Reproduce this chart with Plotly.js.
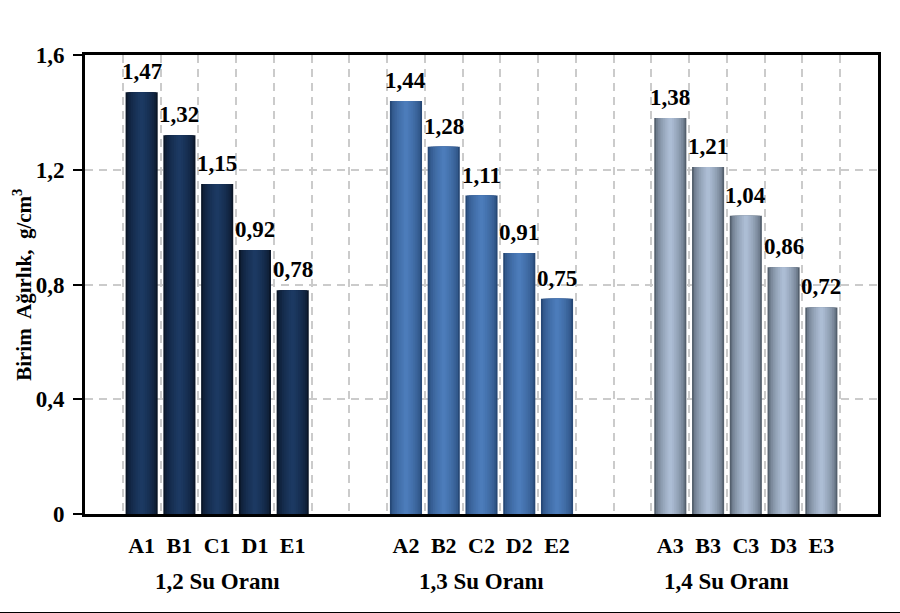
<!DOCTYPE html>
<html>
<head>
<meta charset="utf-8">
<script src="https://cdn.plot.ly/plotly-3.0.1.min.js"></script>
<style>html,body{margin:0;padding:0;background:#fff;}#chart{width:900px;height:613px;}</style>
</head>
<body>
<div id="chart"></div>
<script>
// ---- data ----
const categories = ['A1','B1','C1','D1','E1','A2','B2','C2','D2','E2','A3','B3','C3','D3','E3'];
const groupLabels = ['1,2 Su Oranı','1,3 Su Oranı','1,4 Su Oranı'];
const values12 = [1.47, 1.32, 1.15, 0.92, 0.78];
const values13 = [1.44, 1.28, 1.11, 0.91, 0.75];
const values14 = [1.38, 1.21, 1.04, 0.86, 0.72];
const yTickVals = [0, 0.4, 0.8, 1.2, 1.6];
const yTickText = ['0', '0,4', '0,8', '1,2', '1,6'];
const yTitle = 'Birim  Ağırlık,  g/cm<sup>3</sup>';

// ---- styles ----
const edgeColors = [[10,22,40],[38,72,118],[84,96,110]];
const centerColors = [[28,57,98],[76,124,186],[172,189,212]];
const FONT = 'Liberation Serif, Times New Roman, serif';

const groups = [values12, values13, values14];
const perGroup = 5;
// category order with two empty slots between groups
const catOrder = [], tickText = [];
groups.forEach((vals, g) => {
  for (let i = 0; i < perGroup; i++) { catOrder.push(categories[g*perGroup+i]); tickText.push(categories[g*perGroup+i]); }
  if (g < groups.length - 1) { catOrder.push('gap'+g+'a', 'gap'+g+'b'); tickText.push(' ', ' '); }
});

const xs = [], ys = [], gIdx = [];
groups.forEach((vals, g) => vals.forEach((v, i) => { xs.push(categories[g*perGroup+i]); ys.push(v); gIdx.push(g); }));

function mix(a, b, t) {
  return 'rgb(' + a.map((c, k) => Math.round(c + (b[k]-c)*t)).join(',') + ')';
}

const N = 9, W = 0.85;
const traces = [];
for (let k = 0; k < N; k++) {
  const f = k / (N - 1);
  const t = Math.pow(f, 0.55);
  const w = W * (1 - 0.88 * f);
  traces.push({
    type: 'bar', x: xs, y: ys, width: w,
    marker: { color: gIdx.map(g => mix(edgeColors[g], centerColors[g], t)), line: {width: 0} },
    hoverinfo: 'skip', showlegend: false
  });
}

const annotations = xs.map((c, i) => ({
  xref: 'x', yref: 'y', x: c, y: ys[i], yanchor: 'bottom', xanchor: 'center', yshift: 6,
  text: ys[i].toFixed(2).replace('.', ','), showarrow: false,
  font: { family: FONT, size: 23, color: '#000', weight: 'bold' }
}));
groupLabels.forEach((lab, g) => annotations.push({
  xref: 'x', yref: 'paper', x: g*(perGroup+2) + 2, y: -0.148,
  xshift: g === 2 ? -19 : 0,
  text: lab, showarrow: false, xanchor: 'center', yanchor: 'middle',
  font: { family: FONT, size: 23, color: '#000', weight: 'bold' }
}));
annotations.push({
  xref: 'paper', yref: 'paper', x: -0.079, y: 0.5, textangle: -90,
  text: yTitle, showarrow: false, xanchor: 'center', yanchor: 'middle',
  font: { family: FONT, size: 21, color: '#000', weight: 'bold' }
});

const layout = {
  width: 900, height: 613,
  margin: { l: 85, r: 22, t: 55, b: 99 },
  paper_bgcolor: '#fff', plot_bgcolor: '#fff',
  separators: ',.',
  barmode: 'overlay',
  showlegend: false,
  font: { family: FONT, color: '#000' },
  xaxis: {
    type: 'category', categoryorder: 'array', categoryarray: catOrder,
    tickmode: 'array', tickvals: catOrder, ticktext: tickText,
    range: [-1.5, catOrder.length + 0.5],
    tickson: 'boundaries', ticks: '', ticklabelstandoff: 10,
    showgrid: true, gridcolor: '#cbcbcb', gridwidth: 2, griddash: '8px,6px',
    showline: true, linecolor: '#000', linewidth: 3, mirror: true,
    tickfont: { family: FONT, size: 22, color: '#000', weight: 'bold' },
    fixedrange: true, zeroline: false
  },
  yaxis: {
    range: [0, 1.6], tickmode: 'array', tickvals: yTickVals, ticktext: yTickText,
    ticks: 'outside', ticklen: 9, tickwidth: 2, tickcolor: '#000',
    showgrid: true, gridcolor: '#cbcbcb', gridwidth: 2, griddash: '8px,6px',
    showline: true, linecolor: '#000', linewidth: 3, mirror: true,
    zeroline: false, ticklabelstandoff: 4,
    tickfont: { family: FONT, size: 23, color: '#000', weight: 'bold' },
    fixedrange: true
  },
  annotations: annotations,
  shapes: [{
    type: 'line', xref: 'paper', yref: 'paper',
    x0: -0.11, x1: 1.03, y0: -0.2155, y1: -0.2155,
    line: { color: '#000', width: 2 }
  }]
};

Plotly.newPlot('chart', traces, layout, { staticPlot: true, displayModeBar: false });
</script>
</body>
</html>
